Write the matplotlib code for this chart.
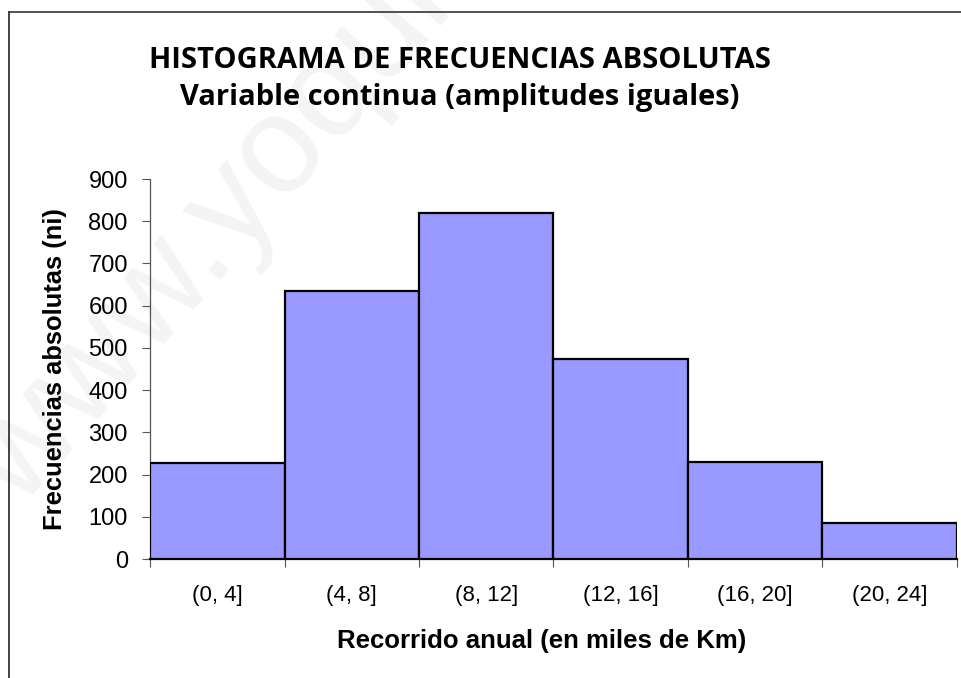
import matplotlib
matplotlib.use("Agg")
import matplotlib.pyplot as plt
from matplotlib.lines import Line2D

# datos del histograma
bordes = [0, 4, 8, 12, 16, 20, 24]
frecuencias = [227, 634, 820, 474, 230, 86]
etiquetas = ['(0, 4]', '(4, 8]', '(8, 12]', '(12, 16]', '(16, 20]', '(20, 24]']

plt.rcParams['font.family'] = 'Liberation Sans'

W, H = 961, 678
fig = plt.figure(figsize=(W / 100, H / 100), dpi=100)
fig.patch.set_facecolor('white')

# marca de agua
fig.text(20 / W, 1 - 510 / H, 'www.yoquieroaprobar.es', fontsize=100,
         color='#f4f4f4', rotation=49, rotation_mode='anchor',
         ha='left', va='baseline', zorder=-5)

# marco del grafico (solo arriba e izquierda visibles)
fig.add_artist(Line2D([9 / W, 9 / W], [0, 1 - 12 / H], color='#222222', lw=1.2))
fig.add_artist(Line2D([9 / W, 1], [1 - 12 / H, 1 - 12 / H], color='#333333', lw=1.2))

ax = fig.add_axes([150 / W, 1 - 559 / H, (957 - 150) / W, (559 - 179) / H])
ax.patch.set_alpha(0)
ax.set_zorder(2)

anchos = [bordes[i + 1] - bordes[i] for i in range(len(frecuencias))]
ax.bar(bordes[:-1], frecuencias, width=anchos, align='edge',
       color='#9999ff', edgecolor='black', linewidth=1.6, zorder=3)

ax.set_xlim(bordes[0], bordes[-1])
ax.set_ylim(0, 900)
ax.set_yticks(range(0, 901, 100))

ax.set_xticks(bordes)
ax.set_xticklabels([])
centros = [(bordes[i] + bordes[i + 1]) / 2 for i in range(len(frecuencias))]
ax.set_xticks(centros, minor=True)
ax.set_xticklabels(etiquetas, minor=True)
ax.tick_params(axis='x', which='minor', length=0, pad=19, labelsize=16)
ax.tick_params(axis='x', which='major', length=6, width=0.8, color='#555555')
ax.tick_params(axis='y', length=6, width=0.8, color='#555555', pad=10, labelsize=17)

for s in ['top', 'right']:
    ax.spines[s].set_visible(False)
ax.spines['left'].set_color('#555555')
ax.spines['left'].set_linewidth(0.9)
ax.spines['bottom'].set_color('black')
ax.spines['bottom'].set_linewidth(1.6)

ax.set_xlabel('Recorrido anual (en miles de Km)', fontsize=18.5, fontweight='bold')
ax.xaxis.set_label_coords(0.485, -0.183)
ax.set_ylabel('Frecuencias absolutas (ni)', fontsize=18.4,
              fontweight='bold', labelpad=15)

fig.text(460 / W, 1 - 61 / H, 'HISTOGRAMA DE FRECUENCIAS ABSOLUTAS',
         family='Open Sans', fontweight='bold', fontsize=21, ha='center', va='center')
fig.text(460 / W, 1 - 98 / H, 'Variable continua (amplitudes iguales)',
         family='Open Sans', fontweight='bold', fontsize=21, ha='center', va='center')

fig.savefig('out.png', dpi=100, facecolor='white')
